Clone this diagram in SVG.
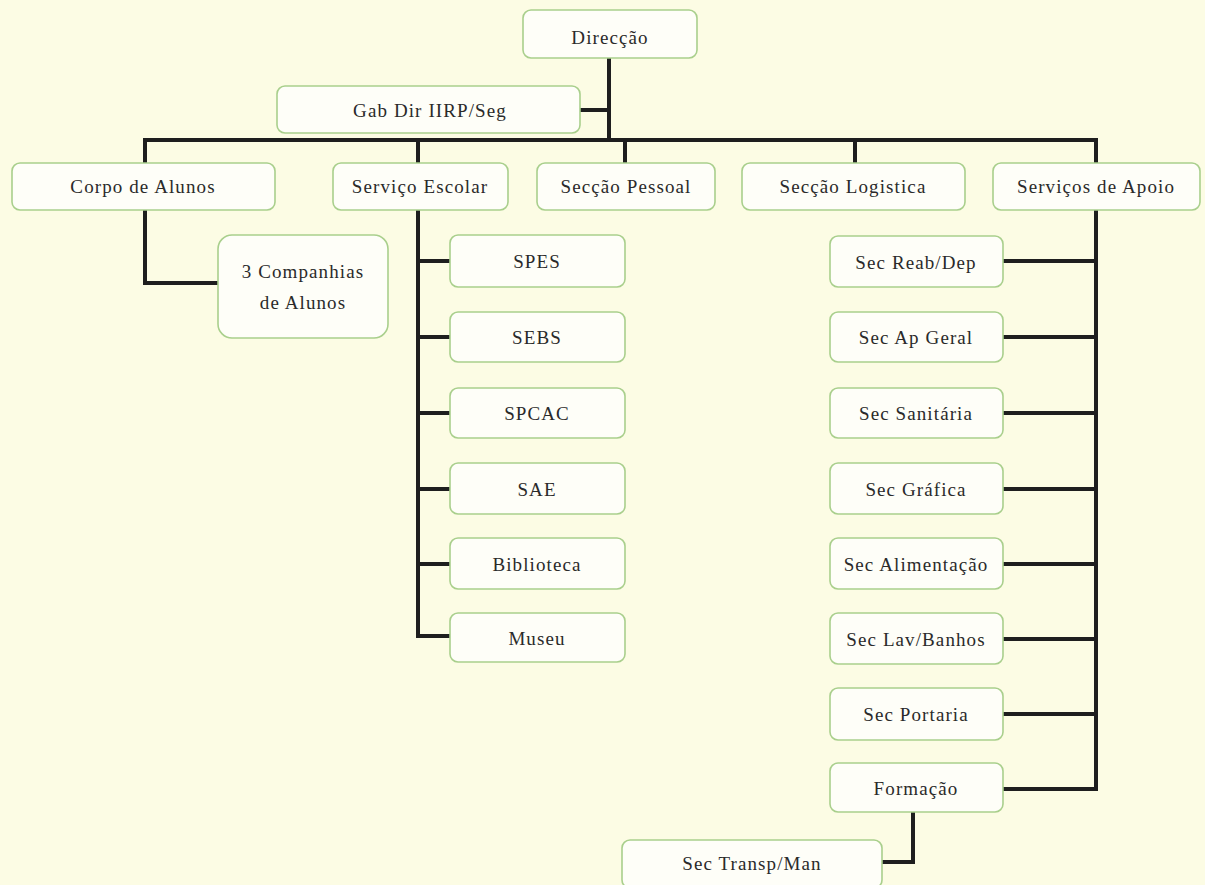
<svg xmlns="http://www.w3.org/2000/svg" width="1205" height="885" viewBox="0 0 1205 885">
<style>
.bx{fill:#fefef8;stroke:#a9cf8c;stroke-width:1.6}
.t{font-family:"Liberation Serif","Times New Roman",serif;font-size:19px;letter-spacing:1.1px;fill:#2a2a2a;text-anchor:middle;dominant-baseline:middle}
.c{fill:none;stroke:#1e1e1e;stroke-width:4;stroke-linecap:square;stroke-linejoin:miter}
</style>
<rect x="0" y="0" width="1205" height="885" fill="#fcfce4"/>
<g id="connectors">
<path class="c" d="M609 58V140"/>
<path class="c" d="M580 110H609"/>
<path class="c" d="M145 140H1096"/>
<path class="c" d="M145 140V163M418 140V163M625 140V163M855 140V163M1096 140V163"/>
<path class="c" d="M145 210V283H218"/>
<path class="c" d="M418 210V636H450"/>
<path class="c" d="M418 261H450M418 337H450M418 413H450M418 489H450M418 564H450"/>
<path class="c" d="M1096 210V789H1003"/>
<path class="c" d="M1003 261H1096M1003 337H1096M1003 413H1096M1003 489H1096M1003 564H1096M1003 639H1096M1003 714H1096"/>
<path class="c" d="M913 812V862H882"/>
</g>
<g id="n-direccao"><rect class="bx" x="523" y="10" width="174" height="48" rx="8"/><text class="t" x="610" y="40">Direcção</text></g>
<g id="n-gab"><rect class="bx" x="277" y="86" width="303" height="47" rx="8"/><text class="t" x="430" y="113">Gab Dir IIRP/Seg</text></g>
<g id="n-corpo"><rect class="bx" x="12" y="163" width="263" height="47" rx="8"/><text class="t" x="143" y="189">Corpo de Alunos</text></g>
<g id="n-servesc"><rect class="bx" x="333" y="163" width="175" height="47" rx="8"/><text class="t" x="420" y="189">Serviço Escolar</text></g>
<g id="n-pessoal"><rect class="bx" x="537" y="163" width="178" height="47" rx="8"/><text class="t" x="626" y="189">Secção Pessoal</text></g>
<g id="n-logistica"><rect class="bx" x="742" y="163" width="223" height="47" rx="8"/><text class="t" x="853" y="189">Secção Logistica</text></g>
<g id="n-apoio"><rect class="bx" x="993" y="163" width="207" height="47" rx="8"/><text class="t" x="1096" y="189">Serviços de Apoio</text></g>
<g id="n-companhias"><rect class="bx" x="218" y="235" width="170" height="103" rx="14"/><text class="t" x="303" y="274">3 Companhias</text><text class="t" x="303" y="305">de Alunos</text></g>
<g id="n-spes"><rect class="bx" x="450" y="235" width="175" height="52" rx="8"/><text class="t" x="537" y="264">SPES</text></g>
<g id="n-sebs"><rect class="bx" x="450" y="312" width="175" height="50" rx="8"/><text class="t" x="537" y="340">SEBS</text></g>
<g id="n-spcac"><rect class="bx" x="450" y="388" width="175" height="50" rx="8"/><text class="t" x="537" y="416">SPCAC</text></g>
<g id="n-sae"><rect class="bx" x="450" y="463" width="175" height="51" rx="8"/><text class="t" x="537" y="492">SAE</text></g>
<g id="n-biblioteca"><rect class="bx" x="450" y="538" width="175" height="51" rx="8"/><text class="t" x="537" y="567">Biblioteca</text></g>
<g id="n-museu"><rect class="bx" x="450" y="613" width="175" height="49" rx="8"/><text class="t" x="537" y="641">Museu</text></g>
<g id="n-reab"><rect class="bx" x="830" y="236" width="173" height="51" rx="8"/><text class="t" x="916" y="265">Sec Reab/Dep</text></g>
<g id="n-apgeral"><rect class="bx" x="830" y="312" width="173" height="50" rx="8"/><text class="t" x="916" y="340">Sec Ap Geral</text></g>
<g id="n-sanitaria"><rect class="bx" x="830" y="388" width="173" height="50" rx="8"/><text class="t" x="916" y="416">Sec Sanitária</text></g>
<g id="n-grafica"><rect class="bx" x="830" y="463" width="173" height="51" rx="8"/><text class="t" x="916" y="492">Sec Gráfica</text></g>
<g id="n-alimentacao"><rect class="bx" x="830" y="538" width="173" height="51" rx="8"/><text class="t" x="916" y="567" letter-spacing="0.3">Sec Alimentação</text></g>
<g id="n-lav"><rect class="bx" x="830" y="613" width="173" height="51" rx="8"/><text class="t" x="916" y="642">Sec Lav/Banhos</text></g>
<g id="n-portaria"><rect class="bx" x="830" y="688" width="173" height="52" rx="8"/><text class="t" x="916" y="717">Sec Portaria</text></g>
<g id="n-formacao"><rect class="bx" x="830" y="763" width="173" height="49" rx="8"/><text class="t" x="916" y="791">Formação</text></g>
<g id="n-transp"><rect class="bx" x="622" y="840" width="260" height="48" rx="8"/><text class="t" x="752" y="866">Sec Transp/Man</text></g>
</svg>
